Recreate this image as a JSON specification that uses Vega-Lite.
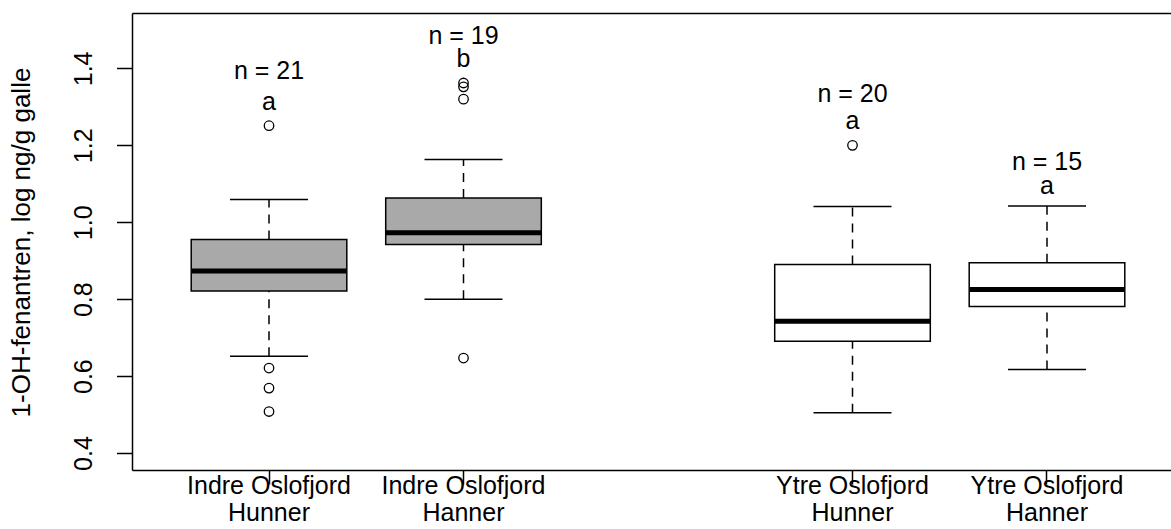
{
  "$schema": "https://vega.github.io/schema/vega-lite/v6.json",
  "width": 1039,
  "height": 457,
  "autosize": {"type": "none"},
  "padding": {"left": 132, "top": 13, "right": 0, "bottom": 59},
  "background": "white",
  "config": {
    "view": {"stroke": null},
    "font": "Liberation Sans",
    "axis": {"grid": false, "domainColor": "black", "domainWidth": 1.5, "tickColor": "black", "tickWidth": 1.5, "labelColor": "black", "titleColor": "black", "labelFont": "Liberation Sans", "titleFont": "Liberation Sans", "labelFontSize": 25, "titleFontSize": 26, "titleFontWeight": "normal"}
  },
  "datasets": {
    "stats": [
      {"group": "Indre Oslofjord Hunner", "region": "Indre", "lower": 0.652, "q1": 0.821, "median": 0.873, "q3": 0.955, "upper": 1.059},
      {"group": "Indre Oslofjord Hanner", "region": "Indre", "lower": 0.800, "q1": 0.942, "median": 0.973, "q3": 1.063, "upper": 1.163},
      {"group": "Ytre Oslofjord Hunner", "region": "Ytre", "lower": 0.505, "q1": 0.691, "median": 0.743, "q3": 0.890, "upper": 1.041},
      {"group": "Ytre Oslofjord Hanner", "region": "Ytre", "lower": 0.617, "q1": 0.781, "median": 0.825, "q3": 0.895, "upper": 1.042}
    ],
    "outliers": [
      {"group": "Indre Oslofjord Hunner", "value": 1.251},
      {"group": "Indre Oslofjord Hunner", "value": 0.621},
      {"group": "Indre Oslofjord Hunner", "value": 0.569},
      {"group": "Indre Oslofjord Hunner", "value": 0.508},
      {"group": "Indre Oslofjord Hanner", "value": 1.362},
      {"group": "Indre Oslofjord Hanner", "value": 1.352},
      {"group": "Indre Oslofjord Hanner", "value": 1.320},
      {"group": "Indre Oslofjord Hanner", "value": 0.647},
      {"group": "Ytre Oslofjord Hunner", "value": 1.200}
    ],
    "labels": [
      {"group": "Indre Oslofjord Hunner", "text": "n = 21", "value": 1.373},
      {"group": "Indre Oslofjord Hunner", "text": "a", "value": 1.291},
      {"group": "Indre Oslofjord Hanner", "text": "n = 19", "value": 1.464},
      {"group": "Indre Oslofjord Hanner", "text": "b", "value": 1.404},
      {"group": "Ytre Oslofjord Hunner", "text": "n = 20", "value": 1.313},
      {"group": "Ytre Oslofjord Hunner", "text": "a", "value": 1.243},
      {"group": "Ytre Oslofjord Hanner", "text": "n = 15", "value": 1.137},
      {"group": "Ytre Oslofjord Hanner", "text": "a", "value": 1.074}
    ]
  },
  "resolve": {"axis": {"x": "independent", "y": "independent"}},
  "layer": [
    {
      "data": {"name": "stats"},
      "mark": {"type": "rule", "strokeDash": [9, 7], "strokeWidth": 1.5, "color": "black"},
      "encoding": {
        "x": {"field": "group", "type": "nominal",
          "scale": {"type": "band", "domain": ["Indre Oslofjord Hunner", "Indre Oslofjord Hanner", " ", "Ytre Oslofjord Hunner", "Ytre Oslofjord Hanner"], "paddingInner": 0.2, "paddingOuter": 0.271, "align": 0.5617},
          "axis": {"orient": "bottom", "title": null, "values": ["Indre Oslofjord Hunner", "Indre Oslofjord Hanner", "Ytre Oslofjord Hunner", "Ytre Oslofjord Hanner"], "labelAngle": 0, "tickSize": 14, "labelPadding": -11, "labelLineHeight": 27, "labelExpr": "[slice(datum.label, 0, lastindexof(datum.label, ' ')), slice(datum.label, lastindexof(datum.label, ' ') + 1)]"}},
        "y": {"field": "q3", "type": "quantitative",
          "scale": {"domain": [0.356, 1.544], "nice": false, "zero": false},
          "axis": {"orient": "left", "title": "1-OH-fenantren, log ng/g galle", "values": [0.4, 0.6, 0.8, 1.0, 1.2, 1.4], "format": ".1f", "tickSize": 15.5, "labelPadding": 25, "labelAngle": 270, "labelAlign": "center", "labelBaseline": "alphabetic", "titleX": -103, "titleY": 229, "titleAngle": 270, "titleAlign": "center", "titleBaseline": "alphabetic"}},
        "y2": {"field": "upper"}
      }
    },
    {
      "data": {"name": "stats"},
      "mark": {"type": "rule", "strokeDash": [9, 7], "strokeWidth": 1.5, "color": "black"},
      "encoding": {
        "x": {"field": "group", "type": "nominal", "axis": {"orient": "top", "title": null, "labels": false, "ticks": false, "domain": true}},
        "y": {"field": "lower", "type": "quantitative", "axis": null},
        "y2": {"field": "q1"}
      }
    },
    {
      "data": {"name": "stats"},
      "mark": {"type": "tick", "orient": "horizontal", "size": 78, "thickness": 1.5, "color": "black", "opacity": 1},
      "encoding": {
        "x": {"field": "group", "type": "nominal", "axis": null},
        "y": {"field": "upper", "type": "quantitative", "axis": null}
      }
    },
    {
      "data": {"name": "stats"},
      "mark": {"type": "tick", "orient": "horizontal", "size": 78, "thickness": 1.5, "color": "black", "opacity": 1},
      "encoding": {
        "x": {"field": "group", "type": "nominal", "axis": null},
        "y": {"field": "lower", "type": "quantitative", "axis": null}
      }
    },
    {
      "data": {"name": "stats"},
      "mark": {"type": "bar", "stroke": "black", "strokeWidth": 1.5, "opacity": 1},
      "encoding": {
        "x": {"field": "group", "type": "nominal", "axis": null},
        "y": {"field": "q1", "type": "quantitative", "axis": null},
        "y2": {"field": "q3"},
        "fill": {"field": "region", "type": "nominal", "scale": {"domain": ["Indre", "Ytre"], "range": ["#a9a9a9", "#ffffff"]}, "legend": null}
      }
    },
    {
      "data": {"name": "stats"},
      "mark": {"type": "tick", "orient": "horizontal", "size": 155, "thickness": 5, "color": "black", "opacity": 1},
      "encoding": {
        "x": {"field": "group", "type": "nominal", "axis": null},
        "y": {"field": "median", "type": "quantitative", "axis": null}
      }
    },
    {
      "data": {"name": "outliers"},
      "mark": {"type": "point", "shape": "circle", "filled": false, "stroke": "black", "strokeWidth": 1.3, "size": 90, "opacity": 1},
      "encoding": {
        "x": {"field": "group", "type": "nominal", "axis": null},
        "y": {"field": "value", "type": "quantitative", "axis": null}
      }
    },
    {
      "data": {"name": "labels"},
      "mark": {"type": "text", "fontSize": 25, "font": "Liberation Sans", "align": "center", "baseline": "alphabetic", "color": "black"},
      "encoding": {
        "x": {"field": "group", "type": "nominal", "axis": null},
        "y": {"field": "value", "type": "quantitative", "axis": null},
        "text": {"field": "text"}
      }
    }
  ]
}
